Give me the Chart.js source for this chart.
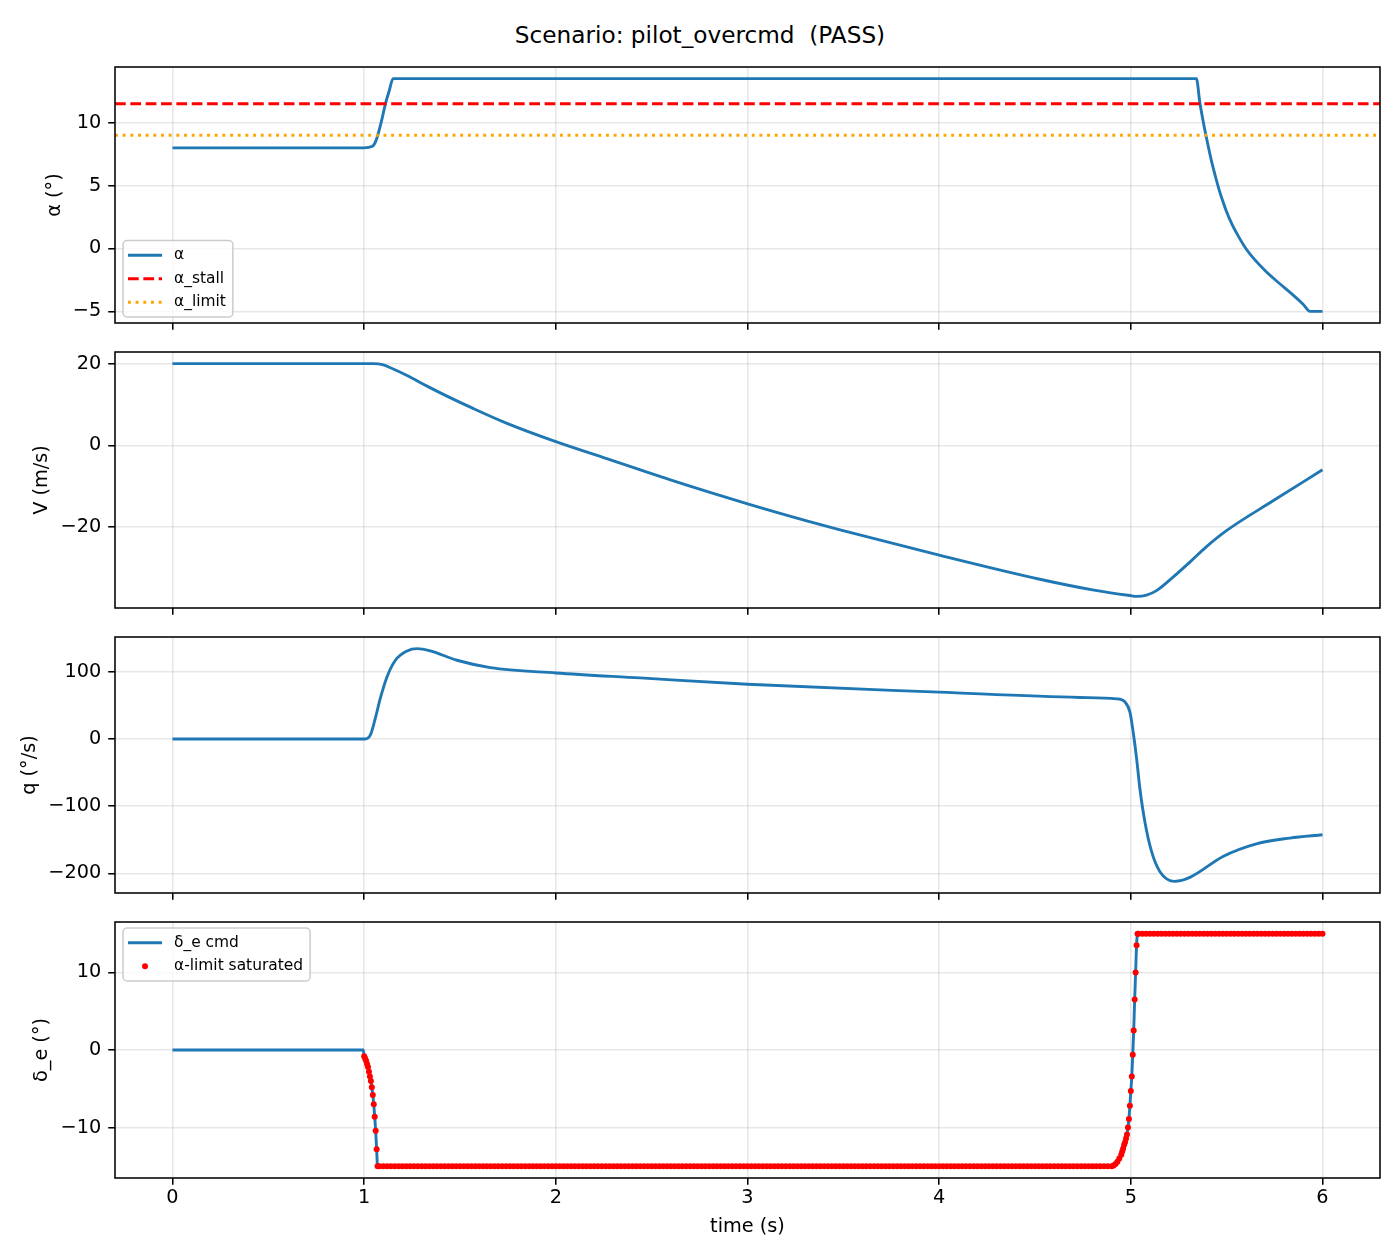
<!DOCTYPE html>
<html>
<head>
<meta charset="utf-8">
<title>pilot_overcmd</title>
<script src="https://cdn.jsdelivr.net/npm/chart.js@4/dist/chart.umd.min.js"></script>
<style>
    body { margin: 0; background: #fff; width: 1400px; height: 1260px; position: relative; overflow: hidden; font-family: "DejaVu Sans"; }
    .panel { position: absolute; left: 0; width: 1400px; }
    #titulo { position: absolute; left: 0; width: 1400px; top: 21px; line-height: 28px; text-align: center; font-size: 23.2px; white-space: pre; color: #000; }
</style>
</head>
<body>
<div id="titulo">Scenario: pilot_overcmd  (PASS)</div>
<div class="panel" id="p1"><canvas id="c1"></canvas></div>
<div class="panel" id="p2"><canvas id="c2"></canvas></div>
<div class="panel" id="p3"><canvas id="c3"></canvas></div>
<div class="panel" id="p4"><canvas id="c4"></canvas></div>
<script>
// shared time axis
const xTicks = [0, 1, 2, 3, 4, 5, 6];
const xMin = -0.3;
const xMax = 6.3;

// angle of attack (deg)
const alphaTimes = [0, 1.0, 1.04, 1.055, 1.067, 1.09, 1.111, 1.13, 1.151, 5.342, 5.36, 5.38, 5.40, 5.42, 5.44, 5.46, 5.48, 5.50, 5.53, 5.56, 5.60, 5.65, 5.70, 5.75, 5.80, 5.85, 5.90, 5.935, 6.0];
const alphaValues = [8, 8, 8.1, 8.35, 8.8, 10.1, 11.5, 12.5, 13.5, 13.5, 11.6, 9.9, 8.4, 7.0, 5.8, 4.7, 3.75, 2.9, 1.85, 1.0, 0.0, -0.95, -1.75, -2.45, -3.1, -3.75, -4.45, -5.0, -5.0];
const alphaStall = 11.5;
const alphaLimit = 9.0;
const alphaTicks = [-5, 0, 5, 10];

// airspeed (m/s)
const vTimes = [0, 1.05, 1.1, 1.137, 1.224, 1.328, 1.432, 1.571, 1.745, 2.0, 2.266, 2.614, 3.005, 3.309, 3.483, 4.0, 4.525, 4.8, 4.995, 5.03, 5.082, 5.134, 5.22, 5.308, 5.395, 5.499, 5.742, 6.0];
const vValues = [20, 20, 19.7, 19.0, 17.1, 14.5, 12.05, 8.97, 5.38, 0.9, -3.26, -8.72, -14.4, -18.5, -20.7, -26.9, -32.8, -35.4, -36.8, -37.0, -36.7, -35.6, -32.3, -28.6, -24.8, -20.9, -13.6, -6.0];
const vTicks = [-20, 0, 20];

// pitch rate (deg/s)
const qTimes = [0, 1.0, 1.032, 1.058, 1.084, 1.119, 1.163, 1.224, 1.276, 1.345, 1.484, 1.658, 2.0, 2.44, 3.0, 4.0, 4.734, 4.925, 4.969, 4.995, 5.012, 5.03, 5.047, 5.073, 5.108, 5.151, 5.229, 5.308, 5.481, 5.655, 5.829, 6.0];
const qValues = [0, 0, 5.9, 30.7, 60.4, 92.5, 117.3, 131.2, 134.6, 131.2, 117.3, 106.4, 98.4, 91.0, 81.6, 69.8, 61.9, 59.9, 55.4, 40.5, 10.8, -28.7, -73.2, -122.7, -167.3, -197, -211.8, -205.9, -174.7, -155.9, -147.4, -142.5];
const qTicks = [-200, -100, 0, 100];

// elevator command (deg)
const cmdTimes = [0, 0.995, 1.0, 1.005, 1.01, 1.015, 1.02, 1.025, 1.03, 1.035, 1.04, 1.045, 1.05, 1.055, 1.06, 1.065, 1.07,
    4.9, 4.91, 4.92, 4.93, 4.94, 4.95, 4.955, 4.96, 4.965, 4.97, 4.975, 4.98, 4.985, 4.99, 4.995,
    5.0, 5.005, 5.01, 5.015, 5.02, 5.025, 5.03, 5.035, 6.0];
const cmdValues = [0, 0, -0.8, -1.1, -1.4, -1.8, -2.2, -2.8, -3.4, -4.0, -4.8, -5.8, -7.0, -8.6, -10.4, -12.8, -15,
    -15, -14.9, -14.7, -14.4, -14.0, -13.5, -13.1, -12.7, -12.2, -11.9, -11.4, -10.9, -10.0, -8.9, -7.2,
    -5.3, -3.4, -0.6, 2.5, 6.5, 10.0, 13.5, 15, 15];
const deTicks = [-10, 0, 10];

// alpha-limit saturated samples (all samples from t = 1.0 on)
const satStart = 1.0;
const satLow = -15;
const satHigh = 15;
const satLowTimes = [
    1.08, 1.10, 1.12, 1.14, 1.16, 1.18, 1.20, 1.22, 1.24, 1.26,
    1.28, 1.30, 1.32, 1.34, 1.36, 1.38, 1.40, 1.42, 1.44, 1.46,
    1.48, 1.50, 1.52, 1.54, 1.56, 1.58, 1.60, 1.62, 1.64, 1.66,
    1.68, 1.70, 1.72, 1.74, 1.76, 1.78, 1.80, 1.82, 1.84, 1.86,
    1.88, 1.90, 1.92, 1.94, 1.96, 1.98, 2.00, 2.02, 2.04, 2.06,
    2.08, 2.10, 2.12, 2.14, 2.16, 2.18, 2.20, 2.22, 2.24, 2.26,
    2.28, 2.30, 2.32, 2.34, 2.36, 2.38, 2.40, 2.42, 2.44, 2.46,
    2.48, 2.50, 2.52, 2.54, 2.56, 2.58, 2.60, 2.62, 2.64, 2.66,
    2.68, 2.70, 2.72, 2.74, 2.76, 2.78, 2.80, 2.82, 2.84, 2.86,
    2.88, 2.90, 2.92, 2.94, 2.96, 2.98, 3.00, 3.02, 3.04, 3.06,
    3.08, 3.10, 3.12, 3.14, 3.16, 3.18, 3.20, 3.22, 3.24, 3.26,
    3.28, 3.30, 3.32, 3.34, 3.36, 3.38, 3.40, 3.42, 3.44, 3.46,
    3.48, 3.50, 3.52, 3.54, 3.56, 3.58, 3.60, 3.62, 3.64, 3.66,
    3.68, 3.70, 3.72, 3.74, 3.76, 3.78, 3.80, 3.82, 3.84, 3.86,
    3.88, 3.90, 3.92, 3.94, 3.96, 3.98, 4.00, 4.02, 4.04, 4.06,
    4.08, 4.10, 4.12, 4.14, 4.16, 4.18, 4.20, 4.22, 4.24, 4.26,
    4.28, 4.30, 4.32, 4.34, 4.36, 4.38, 4.40, 4.42, 4.44, 4.46,
    4.48, 4.50, 4.52, 4.54, 4.56, 4.58, 4.60, 4.62, 4.64, 4.66,
    4.68, 4.70, 4.72, 4.74, 4.76, 4.78, 4.80, 4.82, 4.84, 4.86,
    4.88
];
const satHighTimes = [
    5.04, 5.06, 5.08, 5.10, 5.12, 5.14, 5.16, 5.18, 5.20, 5.22,
    5.24, 5.26, 5.28, 5.30, 5.32, 5.34, 5.36, 5.38, 5.40, 5.42,
    5.44, 5.46, 5.48, 5.50, 5.52, 5.54, 5.56, 5.58, 5.60, 5.62,
    5.64, 5.66, 5.68, 5.70, 5.72, 5.74, 5.76, 5.78, 5.80, 5.82,
    5.84, 5.86, 5.88, 5.90, 5.92, 5.94, 5.96, 5.98
];

const BLUE = '#1f77b4';
const FONT = 'DejaVu Sans';
const PX_PT = 1.93; // figure was 140 dpi-ish

Chart.defaults.font.family = FONT;
Chart.defaults.color = '#000';

function pontos(ts, vs) {
    return ts.map((t, i) => ({ x: t, y: vs[i] }));
}

function formatarTick(v) {
    return v < 0 ? '\u2212' + Math.abs(v) : String(v);
}

// spines on all four sides
const moldura = {
    id: 'moldura',
    afterDatasetsDraw(chart) {
        const a = chart.chartArea;
        const ctx = chart.ctx;
        ctx.save();
        ctx.strokeStyle = '#000';
        ctx.lineWidth = 0.8 * PX_PT;
        ctx.strokeRect(a.left, a.top, a.right - a.left, a.bottom - a.top);
        ctx.restore();
    }
};

// matplotlib-like legend inside the axes
const legendaCaixa = {
    id: 'legendaCaixa',
    afterDraw(chart, args, opts) {
        if (!opts.corner) return;
        const a = chart.chartArea;
        const ctx = chart.ctx;
        const itens = chart.data.datasets.filter(d => d.label);
        ctx.save();
        ctx.font = (8 * PX_PT) + 'px "' + FONT + '"';
        const textoW = Math.max(...itens.map(d => ctx.measureText(d.label).width));
        const linhaH = 23.5;
        const w = 5 + 34 + 12 + textoW + 7;
        const h = itens.length * linhaH + 6;
        const x = a.left + 8;
        const y = opts.corner === 'lower left' ? a.bottom - 6 - h : a.top + 6;
        ctx.beginPath();
        ctx.roundRect(x, y, w, h, 4);
        ctx.fillStyle = 'rgba(255,255,255,0.8)';
        ctx.fill();
        ctx.strokeStyle = '#cccccc';
        ctx.lineWidth = 1.5;
        ctx.stroke();
        itens.forEach((d, i) => {
            const cy = y + 3 + linhaH / 2 + i * linhaH;
            if (d.showLine === false) {
                ctx.beginPath();
                ctx.arc(x + 22, cy, d.pointRadius, 0, Math.PI * 2);
                ctx.fillStyle = d.backgroundColor;
                ctx.fill();
            } else {
                ctx.beginPath();
                ctx.setLineDash(d.borderDash || []);
                ctx.lineCap = 'butt';
                ctx.strokeStyle = d.borderColor;
                ctx.lineWidth = d.borderWidth;
                ctx.moveTo(x + 5, cy);
                ctx.lineTo(x + 39, cy);
                ctx.stroke();
                ctx.setLineDash([]);
            }
            ctx.fillStyle = '#000';
            ctx.textBaseline = 'middle';
            ctx.textAlign = 'left';
            ctx.fillText(d.label, x + 51, cy);
        });
        ctx.restore();
    }
};

function criarPainel(id, cfg) {
    const padTop = 12;
    const areaH = 256;
    const div = document.getElementById('p' + id);
    div.style.top = (cfg.areaTop - padTop) + 'px';
    div.style.height = (padTop + areaH + cfg.xAxisH) + 'px';

    // y range like matplotlib autoscale (5% margin)
    const ys = [];
    cfg.datasets.forEach(d => d.data.forEach(p => ys.push(p.y)));
    const lo = Math.min(...ys), hi = Math.max(...ys);
    const pad = 0.05 * (hi - lo);

    const eixoX = {
        type: 'linear',
        min: xMin,
        max: xMax,
        afterBuildTicks: s => { s.ticks = xTicks.map(v => ({ value: v })); },
        afterFit: s => { s.height = cfg.xAxisH; s.paddingLeft = 0; s.paddingRight = 0; },
        grid: { color: 'rgba(176,176,176,0.3)', lineWidth: 0.8 * PX_PT, tickColor: '#000', tickLength: 3.5 * PX_PT, tickWidth: 0.8 * PX_PT },
        border: { display: false },
        ticks: { display: cfg.showX, font: { size: 10 * PX_PT }, color: '#000', padding: 2, callback: formatarTick, maxRotation: 0 },
        title: { display: cfg.showX, text: 'time (s)', font: { size: 10 * PX_PT }, color: '#000', padding: { top: 0, bottom: 9.4 } }
    };
    const eixoY = {
        type: 'linear',
        min: lo - pad,
        max: hi + pad,
        afterBuildTicks: s => { s.ticks = cfg.yTicks.map(v => ({ value: v })); },
        afterFit: s => { s.width = 115; s.paddingTop = 0; s.paddingBottom = 0; },
        grid: { color: 'rgba(176,176,176,0.3)', lineWidth: 0.8 * PX_PT, tickColor: '#000', tickLength: 3.5 * PX_PT, tickWidth: 0.8 * PX_PT },
        border: { display: false },
        ticks: { font: { size: 10 * PX_PT }, color: '#000', padding: 7, callback: formatarTick },
        title: { display: true, text: cfg.yTitle, font: { size: 10 * PX_PT }, color: '#000', padding: { top: cfg.yTitlePad, bottom: 0 } }
    };

    return new Chart(document.getElementById('c' + id), {
        type: 'scatter',
        data: { datasets: cfg.datasets },
        options: {
            responsive: true,
            maintainAspectRatio: false,
            animation: false,
            events: [],
            layout: { padding: { top: padTop, right: 20, left: 0, bottom: 0 } },
            scales: { x: eixoX, y: eixoY },
            plugins: {
                legend: { display: false },
                tooltip: { enabled: false },
                legendaCaixa: { corner: cfg.legend || null }
            }
        },
        plugins: [moldura, legendaCaixa]
    });
}

function linha(label, data, cor, dash, ordem) {
    return {
        label: label,
        data: data,
        showLine: true,
        borderColor: cor,
        backgroundColor: cor,
        borderWidth: 1.5 * PX_PT,
        borderDash: dash,
        pointRadius: 0,
        cubicInterpolationMode: 'monotone',
        order: ordem
    };
}

// painel 1: alpha
criarPainel(1, {
    areaTop: 67, xAxisH: 14, showX: false,
    yTicks: alphaTicks, yTitle: 'α (°)', yTitlePad: 43.4, legend: 'lower left',
    datasets: [
        linha('α', pontos(alphaTimes, alphaValues), BLUE, [], 2),
        linha('α_stall', [{ x: xMin, y: alphaStall }, { x: xMax, y: alphaStall }], '#ff0000', [3.7 * 1.5 * PX_PT, 1.6 * 1.5 * PX_PT], 1),
        linha('α_limit', [{ x: xMin, y: alphaLimit }, { x: xMax, y: alphaLimit }], '#ffa500', [1.5 * PX_PT, 1.65 * 1.5 * PX_PT], 0)
    ]
});

// painel 2: V
criarPainel(2, {
    areaTop: 352, xAxisH: 14, showX: false,
    yTicks: vTicks, yTitle: 'V (m/s)', yTitlePad: 30.4,
    datasets: [linha('', pontos(vTimes, vValues), BLUE, [], 0)]
});

// painel 3: q
criarPainel(3, {
    areaTop: 637, xAxisH: 14, showX: false,
    yTicks: qTicks, yTitle: 'q (°/s)', yTitlePad: 18.4,
    datasets: [linha('', pontos(qTimes, qValues), BLUE, [], 0)]
});

// painel 4: elevator, saturated samples as red dots
const cmdPontos = pontos(cmdTimes, cmdValues);
const satPontos = cmdPontos.filter(p => p.x >= satStart)
    .concat(satLowTimes.map(t => ({ x: t, y: satLow })))
    .concat(satHighTimes.map(t => ({ x: t, y: satHigh })));

criarPainel(4, {
    areaTop: 922, xAxisH: 70, showX: true,
    yTicks: deTicks, yTitle: 'δ_e (°)', yTitlePad: 30.4, legend: 'upper left',
    datasets: [
        linha('δ_e cmd', cmdPontos, BLUE, [], 1),
        {
            label: 'α-limit saturated',
            data: satPontos,
            showLine: false,
            pointRadius: 3,
            pointBorderWidth: 0,
            backgroundColor: '#ff0000',
            borderColor: '#ff0000',
            order: 0
        }
    ]
});
</script>
</body>
</html>
